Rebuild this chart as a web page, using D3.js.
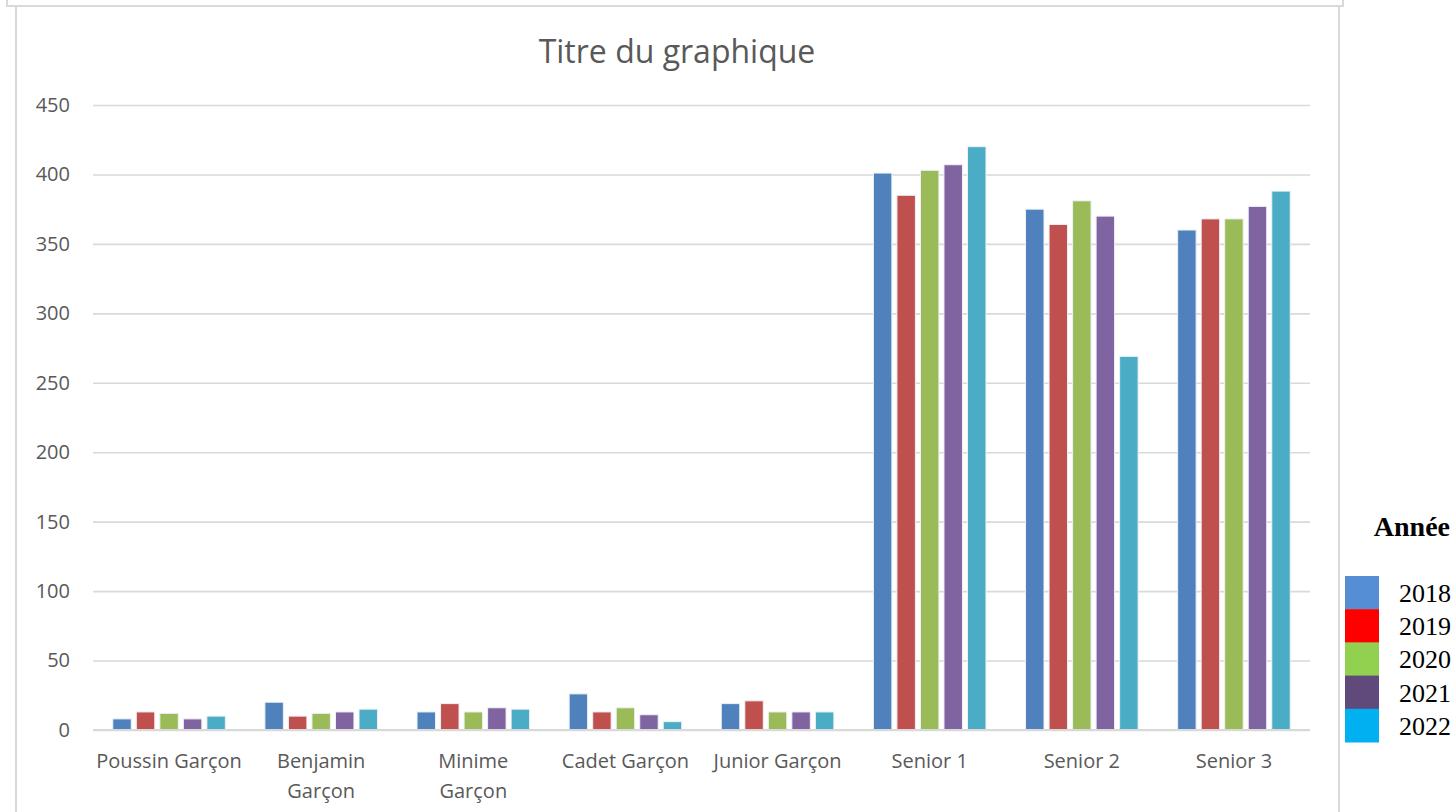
<!DOCTYPE html>
<html>
<head>
<meta charset="utf-8">
<script src="https://cdn.jsdelivr.net/npm/d3@7"></script>
<style>
  body { margin: 0; background: #fff; }
  text { font-family: "Open Sans", sans-serif; }
  text.serif { font-family: "Liberation Serif", "Times New Roman", serif; }
</style>
</head>
<body>
<svg id="chart" width="1456" height="812"></svg>
<script>
// data
var categories = ["Poussin Garçon", "Benjamin Garçon", "Minime Garçon", "Cadet Garçon", "Junior Garçon", "Senior 1", "Senior 2", "Senior 3"];
var labelLines = [["Poussin Garçon"], ["Benjamin", "Garçon"], ["Minime", "Garçon"], ["Cadet Garçon"], ["Junior Garçon"], ["Senior 1"], ["Senior 2"], ["Senior 3"]];
var years = ["2018", "2019", "2020", "2021", "2022"];
var values2018 = [8, 20, 13, 26, 19, 401, 375, 360];
var values2019 = [13, 10, 19, 13, 21, 385, 364, 368];
var values2020 = [12, 12, 13, 16, 13, 403, 381, 368];
var values2021 = [8, 13, 16, 11, 13, 407, 370, 377];
var values2022 = [10, 15, 15, 6, 13, 420, 269, 388];
var yTicks = [0, 50, 100, 150, 200, 250, 300, 350, 400, 450];

var barColors = ["#4F81BD", "#C0504D", "#9BBB59", "#8064A2", "#4BACC6"];
var legendColors = ["#558ED5", "#FF0000", "#92D050", "#604A7B", "#00B0F0"];

var series = [values2018, values2019, values2020, values2021, values2022];

var svg = d3.select("#chart");
var grey = "#d9d9d9";

// outer frame, like the Excel chart box
svg.append("path")
  .attr("d", "M7,0 V6 H1343 V0")
  .attr("fill", "none").attr("stroke", grey).attr("stroke-width", 2);
svg.append("line").attr("x1", 16).attr("x2", 16).attr("y1", 7).attr("y2", 812)
  .attr("stroke", grey).attr("stroke-width", 2);
svg.append("line").attr("x1", 1339).attr("x2", 1339).attr("y1", 7).attr("y2", 812)
  .attr("stroke", grey).attr("stroke-width", 2);

var x0 = d3.scaleBand().domain(categories).range([93, 1310]);
var x1 = d3.scaleBand().domain(years)
  .range([x0.bandwidth() * 0.13, x0.bandwidth() * 0.87])
  .paddingInner(0.215);
var y = d3.scaleLinear().domain([0, 450]).range([730, 105]);

// title
svg.append("text")
  .attr("x", 677).attr("y", 63)
  .attr("text-anchor", "middle")
  .attr("font-size", 32).attr("fill", "#595959")
  .text("Titre du graphique");

// gridlines + y labels
var yAxis = d3.axisLeft(y).tickValues(yTicks).tickSize(-(1310 - 93)).tickPadding(23);
svg.append("g")
  .attr("transform", "translate(93,0)")
  .call(yAxis)
  .call(g => g.select(".domain").remove())
  .call(g => g.selectAll(".tick line").attr("stroke", grey).attr("stroke-width", 1.6))
  .call(g => g.selectAll(".tick text")
    .attr("font-size", 20).attr("fill", "#595959"));

// bars
svg.append("g").selectAll("g")
  .data(categories)
  .join("g")
  .attr("transform", d => "translate(" + x0(d) + ",0)")
  .selectAll("rect")
  .data((d, i) => years.map((yr, j) => ({ year: yr, value: series[j][i], k: j })))
  .join("rect")
  .attr("x", d => x1(d.year))
  .attr("width", x1.bandwidth())
  .attr("y", d => y(d.value))
  .attr("height", d => y(0) - y(d.value))
  .attr("fill", d => barColors[d.k])
  .attr("stroke", "#eef1f6").attr("stroke-width", 1);

// category axis line
svg.append("line")
  .attr("x1", 93).attr("x2", 1310).attr("y1", y(0)).attr("y2", y(0))
  .attr("stroke", grey).attr("stroke-width", 2);

// category labels
var catLabels = svg.append("g").selectAll("text")
  .data(categories)
  .join("text")
  .attr("text-anchor", "middle")
  .attr("font-size", 20).attr("fill", "#595959")
  .attr("x", d => x0(d) + x0.bandwidth() / 2)
  .attr("y", 768);
catLabels.selectAll("tspan")
  .data((d, i) => labelLines[i])
  .join("tspan")
  .attr("x", function() { return this.parentNode.getAttribute("x"); })
  .attr("dy", (d, i) => i === 0 ? 0 : 30)
  .text(d => d);

// legend
var legend = svg.append("g");
var ly = d3.scaleBand().domain(years).range([576, 742]);
legend.append("text")
  .attr("class", "serif")
  .attr("x", 1450).attr("y", 536)
  .attr("text-anchor", "end")
  .attr("font-weight", "bold").attr("font-size", 28).attr("fill", "#000")
  .text("Année");
legend.selectAll("rect")
  .data(years)
  .join("rect")
  .attr("x", 1345).attr("width", 34)
  .attr("y", d => ly(d)).attr("height", ly.bandwidth() + 0.5)
  .attr("fill", (d, i) => legendColors[i]);
legend.selectAll("text.yr")
  .data(years)
  .join("text")
  .attr("class", "yr serif")
  .attr("x", 1399).attr("y", d => ly(d) + 26)
  .attr("font-size", 26).attr("fill", "#000")
  .text(d => d);
</script>
</body>
</html>
